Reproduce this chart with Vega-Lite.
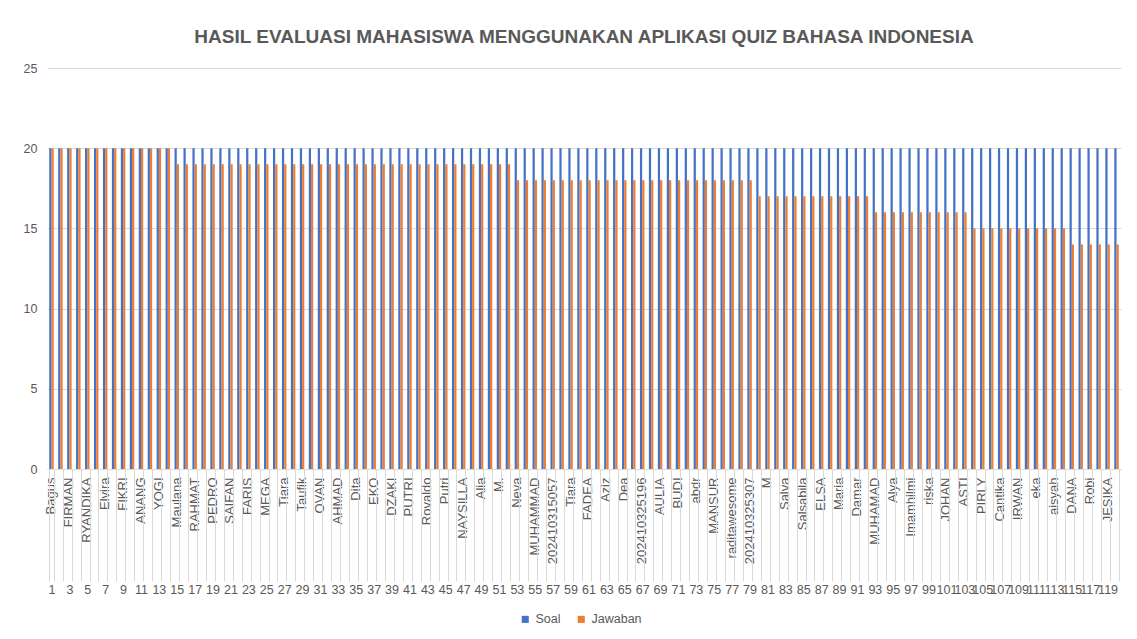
{
  "$schema": "https://vega.github.io/schema/vega-lite/v6.json",
  "width": 1074,
  "height": 401,
  "autosize": {"type": "none"},
  "padding": {"left": 47, "top": 68, "right": 16, "bottom": 170},
  "background": "white",
  "title": {"text": "HASIL EVALUASI MAHASISWA MENGGUNAKAN APLIKASI QUIZ BAHASA INDONESIA", "font": "Liberation Sans", "fontSize": 19, "fontWeight": "bold", "color": "#595959", "offset": 15, "anchor": "middle"},
  "data": {"values": [
    {"no": 1, "nama": "Bagus", "Soal": 20, "Jawaban": 20},
    {"no": 2, "nama": "", "Soal": 20, "Jawaban": 20},
    {"no": 3, "nama": "FIRMAN", "Soal": 20, "Jawaban": 20},
    {"no": 4, "nama": "", "Soal": 20, "Jawaban": 20},
    {"no": 5, "nama": "RYANDIKA", "Soal": 20, "Jawaban": 20},
    {"no": 6, "nama": "", "Soal": 20, "Jawaban": 20},
    {"no": 7, "nama": "Elvira", "Soal": 20, "Jawaban": 20},
    {"no": 8, "nama": "", "Soal": 20, "Jawaban": 20},
    {"no": 9, "nama": "FIKRI", "Soal": 20, "Jawaban": 20},
    {"no": 10, "nama": "", "Soal": 20, "Jawaban": 20},
    {"no": 11, "nama": "ANANG", "Soal": 20, "Jawaban": 20},
    {"no": 12, "nama": "", "Soal": 20, "Jawaban": 20},
    {"no": 13, "nama": "YOGI", "Soal": 20, "Jawaban": 20},
    {"no": 14, "nama": "", "Soal": 20, "Jawaban": 20},
    {"no": 15, "nama": "Maulana", "Soal": 20, "Jawaban": 19},
    {"no": 16, "nama": "", "Soal": 20, "Jawaban": 19},
    {"no": 17, "nama": "RAHMAT", "Soal": 20, "Jawaban": 19},
    {"no": 18, "nama": "", "Soal": 20, "Jawaban": 19},
    {"no": 19, "nama": "PEDRO", "Soal": 20, "Jawaban": 19},
    {"no": 20, "nama": "", "Soal": 20, "Jawaban": 19},
    {"no": 21, "nama": "SAIFAN", "Soal": 20, "Jawaban": 19},
    {"no": 22, "nama": "", "Soal": 20, "Jawaban": 19},
    {"no": 23, "nama": "FARIS", "Soal": 20, "Jawaban": 19},
    {"no": 24, "nama": "", "Soal": 20, "Jawaban": 19},
    {"no": 25, "nama": "MEGA", "Soal": 20, "Jawaban": 19},
    {"no": 26, "nama": "", "Soal": 20, "Jawaban": 19},
    {"no": 27, "nama": "Tiara", "Soal": 20, "Jawaban": 19},
    {"no": 28, "nama": "", "Soal": 20, "Jawaban": 19},
    {"no": 29, "nama": "Taufik", "Soal": 20, "Jawaban": 19},
    {"no": 30, "nama": "", "Soal": 20, "Jawaban": 19},
    {"no": 31, "nama": "OVAN", "Soal": 20, "Jawaban": 19},
    {"no": 32, "nama": "", "Soal": 20, "Jawaban": 19},
    {"no": 33, "nama": "AHMAD", "Soal": 20, "Jawaban": 19},
    {"no": 34, "nama": "", "Soal": 20, "Jawaban": 19},
    {"no": 35, "nama": "Dita", "Soal": 20, "Jawaban": 19},
    {"no": 36, "nama": "", "Soal": 20, "Jawaban": 19},
    {"no": 37, "nama": "EKO", "Soal": 20, "Jawaban": 19},
    {"no": 38, "nama": "", "Soal": 20, "Jawaban": 19},
    {"no": 39, "nama": "DZAKI", "Soal": 20, "Jawaban": 19},
    {"no": 40, "nama": "", "Soal": 20, "Jawaban": 19},
    {"no": 41, "nama": "PUTRI", "Soal": 20, "Jawaban": 19},
    {"no": 42, "nama": "", "Soal": 20, "Jawaban": 19},
    {"no": 43, "nama": "Rovaldo", "Soal": 20, "Jawaban": 19},
    {"no": 44, "nama": "", "Soal": 20, "Jawaban": 19},
    {"no": 45, "nama": "Putri", "Soal": 20, "Jawaban": 19},
    {"no": 46, "nama": "", "Soal": 20, "Jawaban": 19},
    {"no": 47, "nama": "NAYSILLA", "Soal": 20, "Jawaban": 19},
    {"no": 48, "nama": "", "Soal": 20, "Jawaban": 19},
    {"no": 49, "nama": "Alia", "Soal": 20, "Jawaban": 19},
    {"no": 50, "nama": "", "Soal": 20, "Jawaban": 19},
    {"no": 51, "nama": "M.", "Soal": 20, "Jawaban": 19},
    {"no": 52, "nama": "", "Soal": 20, "Jawaban": 19},
    {"no": 53, "nama": "Neva", "Soal": 20, "Jawaban": 18},
    {"no": 54, "nama": "", "Soal": 20, "Jawaban": 18},
    {"no": 55, "nama": "MUHAMMAD", "Soal": 20, "Jawaban": 18},
    {"no": 56, "nama": "", "Soal": 20, "Jawaban": 18},
    {"no": 57, "nama": "202410315057", "Soal": 20, "Jawaban": 18},
    {"no": 58, "nama": "", "Soal": 20, "Jawaban": 18},
    {"no": 59, "nama": "Tiara", "Soal": 20, "Jawaban": 18},
    {"no": 60, "nama": "", "Soal": 20, "Jawaban": 18},
    {"no": 61, "nama": "FADEA", "Soal": 20, "Jawaban": 18},
    {"no": 62, "nama": "", "Soal": 20, "Jawaban": 18},
    {"no": 63, "nama": "Aziz", "Soal": 20, "Jawaban": 18},
    {"no": 64, "nama": "", "Soal": 20, "Jawaban": 18},
    {"no": 65, "nama": "Dea", "Soal": 20, "Jawaban": 18},
    {"no": 66, "nama": "", "Soal": 20, "Jawaban": 18},
    {"no": 67, "nama": "202410325196", "Soal": 20, "Jawaban": 18},
    {"no": 68, "nama": "", "Soal": 20, "Jawaban": 18},
    {"no": 69, "nama": "AULIA", "Soal": 20, "Jawaban": 18},
    {"no": 70, "nama": "", "Soal": 20, "Jawaban": 18},
    {"no": 71, "nama": "BUDI", "Soal": 20, "Jawaban": 18},
    {"no": 72, "nama": "", "Soal": 20, "Jawaban": 18},
    {"no": 73, "nama": "abdr", "Soal": 20, "Jawaban": 18},
    {"no": 74, "nama": "", "Soal": 20, "Jawaban": 18},
    {"no": 75, "nama": "MANSUR", "Soal": 20, "Jawaban": 18},
    {"no": 76, "nama": "", "Soal": 20, "Jawaban": 18},
    {"no": 77, "nama": "raditawesome", "Soal": 20, "Jawaban": 18},
    {"no": 78, "nama": "", "Soal": 20, "Jawaban": 18},
    {"no": 79, "nama": "202410325307", "Soal": 20, "Jawaban": 18},
    {"no": 80, "nama": "", "Soal": 20, "Jawaban": 17},
    {"no": 81, "nama": "M", "Soal": 20, "Jawaban": 17},
    {"no": 82, "nama": "", "Soal": 20, "Jawaban": 17},
    {"no": 83, "nama": "Salva", "Soal": 20, "Jawaban": 17},
    {"no": 84, "nama": "", "Soal": 20, "Jawaban": 17},
    {"no": 85, "nama": "Salsabila", "Soal": 20, "Jawaban": 17},
    {"no": 86, "nama": "", "Soal": 20, "Jawaban": 17},
    {"no": 87, "nama": "ELSA", "Soal": 20, "Jawaban": 17},
    {"no": 88, "nama": "", "Soal": 20, "Jawaban": 17},
    {"no": 89, "nama": "Maria", "Soal": 20, "Jawaban": 17},
    {"no": 90, "nama": "", "Soal": 20, "Jawaban": 17},
    {"no": 91, "nama": "Damar", "Soal": 20, "Jawaban": 17},
    {"no": 92, "nama": "", "Soal": 20, "Jawaban": 17},
    {"no": 93, "nama": "MUHAMAD", "Soal": 20, "Jawaban": 16},
    {"no": 94, "nama": "", "Soal": 20, "Jawaban": 16},
    {"no": 95, "nama": "Alya", "Soal": 20, "Jawaban": 16},
    {"no": 96, "nama": "", "Soal": 20, "Jawaban": 16},
    {"no": 97, "nama": "Imamhilmi", "Soal": 20, "Jawaban": 16},
    {"no": 98, "nama": "", "Soal": 20, "Jawaban": 16},
    {"no": 99, "nama": "riska", "Soal": 20, "Jawaban": 16},
    {"no": 100, "nama": "", "Soal": 20, "Jawaban": 16},
    {"no": 101, "nama": "JOHAN", "Soal": 20, "Jawaban": 16},
    {"no": 102, "nama": "", "Soal": 20, "Jawaban": 16},
    {"no": 103, "nama": "ASTI", "Soal": 20, "Jawaban": 16},
    {"no": 104, "nama": "", "Soal": 20, "Jawaban": 15},
    {"no": 105, "nama": "PIRLY", "Soal": 20, "Jawaban": 15},
    {"no": 106, "nama": "", "Soal": 20, "Jawaban": 15},
    {"no": 107, "nama": "Cantika", "Soal": 20, "Jawaban": 15},
    {"no": 108, "nama": "", "Soal": 20, "Jawaban": 15},
    {"no": 109, "nama": "IRWAN", "Soal": 20, "Jawaban": 15},
    {"no": 110, "nama": "", "Soal": 20, "Jawaban": 15},
    {"no": 111, "nama": "eka", "Soal": 20, "Jawaban": 15},
    {"no": 112, "nama": "", "Soal": 20, "Jawaban": 15},
    {"no": 113, "nama": "aisyah", "Soal": 20, "Jawaban": 15},
    {"no": 114, "nama": "", "Soal": 20, "Jawaban": 15},
    {"no": 115, "nama": "DANA", "Soal": 20, "Jawaban": 14},
    {"no": 116, "nama": "", "Soal": 20, "Jawaban": 14},
    {"no": 117, "nama": "Robi", "Soal": 20, "Jawaban": 14},
    {"no": 118, "nama": "", "Soal": 20, "Jawaban": 14},
    {"no": 119, "nama": "JESIKA", "Soal": 20, "Jawaban": 14},
    {"no": 120, "nama": "", "Soal": 20, "Jawaban": 14}
  ]},
  "transform": [{"fold": ["Soal", "Jawaban"], "as": ["seri", "nilai"]}],
  "layer": [
    {
      "mark": {"type": "bar"},
      "encoding": {
        "x": {
          "field": "no", "type": "ordinal",
          "scale": {"paddingInner": 0.5, "paddingOuter": 0.25},
          "axis": {
            "orient": "bottom",
            "title": null, "labelAngle": -90, "ticks": false, "grid": false,
            "domain": true, "domainColor": "#d9d9d9",
            "labelFont": "Liberation Sans", "labelFontSize": 13, "labelColor": "#595959",
            "labelPadding": 8, "labelOverlap": false, "labelBound": false,
            "labelExpr": "({'1':'Bagus','3':'FIRMAN','5':'RYANDIKA','7':'Elvira','9':'FIKRI','11':'ANANG','13':'YOGI','15':'Maulana','17':'RAHMAT','19':'PEDRO','21':'SAIFAN','23':'FARIS','25':'MEGA','27':'Tiara','29':'Taufik','31':'OVAN','33':'AHMAD','35':'Dita','37':'EKO','39':'DZAKI','41':'PUTRI','43':'Rovaldo','45':'Putri','47':'NAYSILLA','49':'Alia','51':'M.','53':'Neva','55':'MUHAMMAD','57':'202410315057','59':'Tiara','61':'FADEA','63':'Aziz','65':'Dea','67':'202410325196','69':'AULIA','71':'BUDI','73':'abdr','75':'MANSUR','77':'raditawesome','79':'202410325307','81':'M','83':'Salva','85':'Salsabila','87':'ELSA','89':'Maria','91':'Damar','93':'MUHAMAD','95':'Alya','97':'Imamhilmi','99':'riska','101':'JOHAN','103':'ASTI','105':'PIRLY','107':'Cantika','109':'IRWAN','111':'eka','113':'aisyah','115':'DANA','117':'Robi','119':'JESIKA'})[datum.value] || ''"
          }
        },
        "xOffset": {"field": "seri", "type": "nominal", "sort": ["Soal", "Jawaban"]},
        "y": {
          "field": "nilai", "type": "quantitative",
          "scale": {"domain": [0, 25], "nice": false},
          "axis": {
            "title": null, "values": [0, 5, 10, 15, 20, 25], "domain": false, "ticks": false,
            "grid": true, "gridColor": "#d9d9d9", "labelColor": "#595959",
            "labelFont": "Liberation Sans", "labelFontSize": 12.5, "labelPadding": 10
          }
        },
        "color": {
          "field": "seri", "type": "nominal",
          "scale": {"domain": ["Soal", "Jawaban"], "range": ["#4472C4", "#ED7D31"]},
          "legend": {
            "title": null, "orient": "none", "legendX": 472, "legendY": 545,
            "direction": "horizontal", "symbolType": "square", "columnPadding": 14,
            "symbolSize": 50, "symbolStrokeWidth": 0, "labelFont": "Liberation Sans", "labelFontSize": 12.5,
            "labelColor": "#595959"
          }
        }
      }
    },
    {
      "mark": {"type": "tick", "opacity": 0},
      "encoding": {
        "x": {
          "field": "no", "type": "ordinal",
          "axis": {
            "orient": "bottom",
            "title": null, "labelAngle": 0, "ticks": true, "tickBand": "extent", "tickSize": 112,
            "tickColor": "#d9d9d9", "domain": false, "grid": false,
            "labelFont": "Liberation Sans", "labelFontSize": 12.5, "labelColor": "#595959",
            "labelPadding": 2, "labelOverlap": false, "labelBound": false,
            "labelExpr": "datum.value % 2 == 1 ? datum.label : ''"
          }
        },
        "y": {"datum": 0, "type": "quantitative"}
      }
    }
  ],
  "resolve": {"axis": {"x": "independent"}},
  "config": {"view": {"stroke": null}}
}
